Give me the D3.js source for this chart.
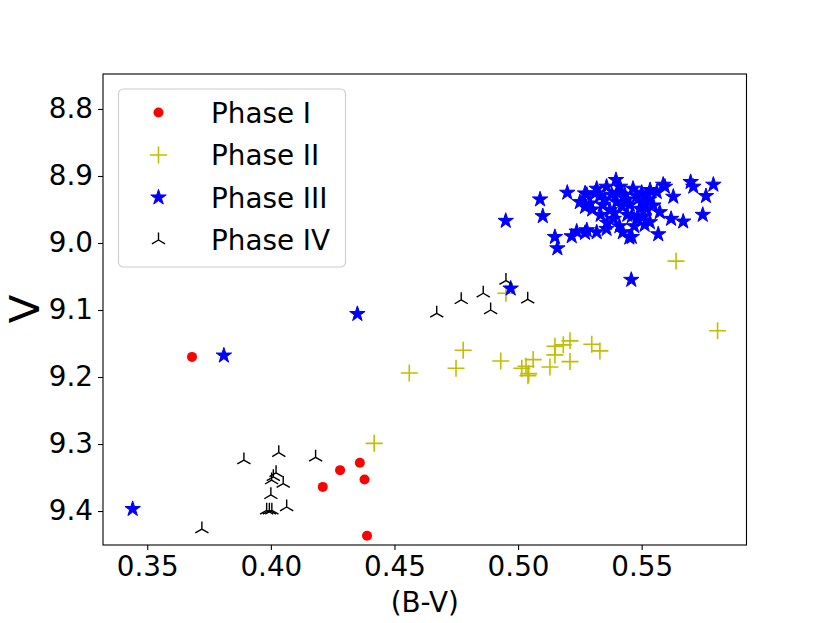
<!DOCTYPE html>
<html>
<head>
<meta charset="utf-8">
<script src="https://cdn.jsdelivr.net/npm/d3@7.9.0/dist/d3.min.js"></script>
<style>
  body { margin: 0; background: #fff; }
  svg text { font-family: "DejaVu Sans", sans-serif; fill: #000; }
</style>
</head>
<body>
<svg id="chart" width="830" height="623"></svg>
<script>
// data: colour index (B-V) vs V magnitude
const phase1X = [0.3681, 0.4210, 0.4280, 0.4360, 0.4379, 0.4389];
const phase1Y = [9.170, 9.364, 9.339, 9.328, 9.353, 9.437];

const phase2X = [0.4418, 0.4560, 0.4749, 0.4778, 0.4930, 0.4951, 0.5015, 0.5043, 0.5040, 0.5061, 0.5032,
  0.5129, 0.5149, 0.5149, 0.5183, 0.5210, 0.5210, 0.5298, 0.5331, 0.5639, 0.5807];
const phase2Y = [9.299, 9.194, 9.187, 9.160, 9.176, 9.075, 9.187, 9.195, 9.198, 9.174, 9.184,
  9.185, 9.154, 9.167, 9.152, 9.146, 9.177, 9.151, 9.161, 9.027, 9.131];

const phase3X = [0.3441, 0.3810, 0.4350, 0.4970, 0.5458, 0.4950, 0.5089, 0.5100, 0.5199, 0.5149,
  0.5159, 0.5217, 0.5237, 0.5271, 0.5450, 0.5567, 0.5587, 0.5668, 0.5698, 0.5709, 0.5747, 0.5760,
  0.5790, 0.5396, 0.5271, 0.5318, 0.5358, 0.5412, 0.5465, 0.5250, 0.5291, 0.5343, 0.5399, 0.5452,
  0.5493, 0.5334, 0.5387, 0.5442, 0.5483, 0.5278, 0.5318, 0.5358, 0.5424, 0.5460, 0.5594, 0.5520,
  0.5561, 0.5628, 0.5619, 0.5533, 0.5573, 0.5520, 0.5547, 0.5432, 0.5379, 0.5512, 0.5371, 0.5534,
  0.5278, 0.5311, 0.5271, 0.5300, 0.5350, 0.5400, 0.5420, 0.5440, 0.5460, 0.5480, 0.5500, 0.5510,
  0.5530, 0.5390, 0.5360, 0.5410, 0.5470, 0.5500, 0.5330];
const phase3Y = [9.397, 9.168, 9.106, 9.068, 9.055, 8.967, 8.935, 8.960, 8.925, 8.991,
  9.008, 8.990, 8.983, 8.985, 8.992, 8.987, 8.913, 8.968, 8.909, 8.916, 8.958, 8.930,
  8.913, 8.906, 8.926, 8.919, 8.916, 8.916, 8.919, 8.939, 8.941, 8.943, 8.939, 8.943,
  8.949, 8.958, 8.964, 8.958, 8.964, 8.981, 8.984, 8.979, 8.984, 8.991, 8.916, 8.929,
  8.924, 8.931, 8.964, 8.969, 8.954, 8.949, 8.944, 8.928, 8.928, 8.973, 8.951, 8.921,
  8.928, 8.926, 8.946, 8.950, 8.935, 8.925, 8.945, 8.935, 8.960, 8.930, 8.940, 8.960,
  8.935, 8.955, 8.970, 8.975, 8.975, 8.925, 8.930];

const phase4X = [0.3891, 0.4032, 0.4181, 0.4010, 0.4003, 0.4021, 0.4050, 0.4000, 0.3983, 0.3994,
  0.4004, 0.4064, 0.3721, 0.4671, 0.4770, 0.4859, 0.4889, 0.4951, 0.5039];
const phase4Y = [9.324, 9.313, 9.320, 9.349, 9.354, 9.343, 9.359, 9.376, 9.399, 9.399,
  9.399, 9.394, 9.427, 9.105, 9.085, 9.075, 9.100, 9.056, 9.084];

const xTicks = [0.35, 0.40, 0.45, 0.50, 0.55];
const yTicks = [8.8, 8.9, 9.0, 9.1, 9.2, 9.3, 9.4];
const phaseNames = ["Phase I", "Phase II", "Phase III", "Phase IV"];

const svg = d3.select("#chart");
svg.append("rect").attr("width", 830).attr("height", 623).attr("fill", "#fff");

const plotLeft = 103, plotRight = 746.5, plotTop = 74, plotBottom = 545;
const x = d3.scaleLinear().domain([0.3321, 0.5924]).range([plotLeft, plotRight]);
const y = d3.scaleLinear().domain([8.7478, 9.4507]).range([plotTop, plotBottom]);

// marker shapes, matplotlib style
const star = d3.symbol(d3.symbolStar, 74)();
const plusPath = "M-8.5,0H8.5M0,-8.5V8.5";
const triR = 7.6;
const triPath = `M0,0V${-triR}M0,0L${-triR * Math.sqrt(3) / 2},${triR / 2}M0,0L${triR * Math.sqrt(3) / 2},${triR / 2}`;

const styles = [
  (g) => g.append("circle").attr("r", 5).attr("fill", "#ff0000"),
  (g) => g.append("path").attr("d", plusPath).attr("stroke", "#bfbf00").attr("stroke-width", 1.6).attr("fill", "none"),
  (g) => g.append("path").attr("d", star).attr("fill", "#0000ff").attr("stroke", "#0000ff").attr("stroke-width", 1),
  (g) => g.append("path").attr("d", triPath).attr("stroke", "#000").attr("stroke-width", 1.4).attr("fill", "none"),
];

const series = [
  [phase1X, phase1Y],
  [phase2X, phase2Y],
  [phase3X, phase3Y],
  [phase4X, phase4Y],
];

const plot = svg.append("g");
series.forEach(([xs, ys], idx) => {
  xs.forEach((v, i) => {
    const g = plot.append("g").attr("transform", `translate(${x(v)},${y(ys[i])})`);
    styles[idx](g);
  });
});

// axes
const xAxis = svg.append("g")
  .attr("transform", `translate(0,${plotBottom})`)
  .call(d3.axisBottom(x).tickValues(xTicks).tickFormat(d3.format(".2f")).tickSize(5).tickPadding(6));
const yAxis = svg.append("g")
  .attr("transform", `translate(${plotLeft},0)`)
  .call(d3.axisLeft(y).tickValues(yTicks).tickFormat(d3.format(".1f")).tickSize(5).tickPadding(5));
[xAxis, yAxis].forEach((a) => {
  a.select(".domain").remove();
  a.selectAll("line").attr("stroke", "#000").attr("stroke-width", 1.1);
  a.selectAll("text").attr("font-size", 27.8).attr("font-family", "DejaVu Sans");
});

svg.append("rect")
  .attr("x", plotLeft).attr("y", plotTop)
  .attr("width", plotRight - plotLeft).attr("height", plotBottom - plotTop)
  .attr("fill", "none").attr("stroke", "#000").attr("stroke-width", 1.1);

svg.append("text")
  .attr("x", (plotLeft + plotRight) / 2).attr("y", 612)
  .attr("text-anchor", "middle").attr("font-size", 27.8)
  .text("(B-V)");

svg.append("text")
  .attr("transform", "translate(39,309) rotate(-90)")
  .attr("text-anchor", "middle").attr("font-size", 41.7)
  .text("V");

// legend
const legend = svg.append("g");
legend.append("rect")
  .attr("x", 118.5).attr("y", 89).attr("width", 227).attr("height", 178).attr("rx", 5)
  .attr("fill", "#fff").attr("fill-opacity", 0.8)
  .attr("stroke", "#cccccc").attr("stroke-width", 1.1);
phaseNames.forEach((name, idx) => {
  const cy = 112.5 + idx * 42.5;
  const g = legend.append("g").attr("transform", `translate(158.5,${cy})`);
  styles[idx](g);
  legend.append("text")
    .attr("x", 211).attr("y", cy).attr("dy", "0.36em")
    .attr("font-size", 27.8)
    .text(name);
});
</script>
</body>
</html>
